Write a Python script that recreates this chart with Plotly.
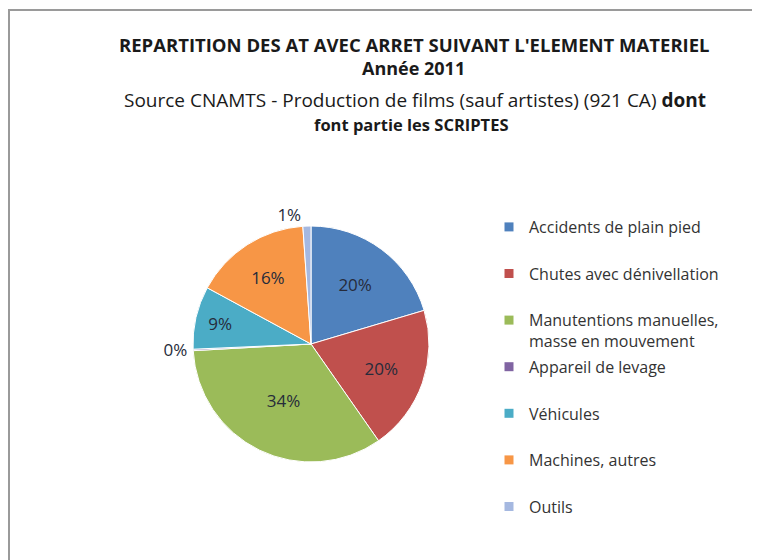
import plotly.graph_objects as go

labels = ["Accidents de plain pied", "Chutes avec dénivellation",
          "Manutentions manuelles,<br>masse en mouvement", "Appareil de levage",
          "Véhicules", "Machines, autres", "Outils"]
values = [20.4, 19.9, 33.8, 0.2, 8.6, 16.0, 1.1]
colors = ["#4F81BD", "#C0504D", "#9BBB59", "#8064A2", "#4BACC6", "#F79646", "#A5B8E0"]
text_positions = ["inside", "inside", "inside", "outside", "inside", "inside", "outside"]

# page body has an 8px margin: figure occupies screen from (8, 8)
OFF = 8
W, H = 752, 552
FONT = "Open Sans, sans-serif"


def px(X):
    return (X - OFF) / W


def py(Y):
    return 1 - (Y - OFF) / H


fig = go.Figure()
fig.add_trace(go.Pie(
    labels=labels, values=values, sort=False, direction="clockwise", rotation=0,
    marker=dict(colors=colors, line=dict(color="white", width=1)),
    texttemplate="%{percent:.0%}", textposition=text_positions,
    insidetextorientation="horizontal",
    textfont=dict(family=FONT, size=17, color="#262b3a"),
    domain=dict(x=[px(193), px(429)], y=[py(462), py(226)]),
    showlegend=False, hoverinfo="label+percent",
))

# legend entries (one per slice)
for lab, col in zip(labels, colors):
    name = lab if "<br>" in lab else lab + "<br> "
    fig.add_trace(go.Scatter(
        x=[None], y=[None], mode="markers", name=name, legendgroup=lab,
        marker=dict(symbol="square", size=9, color=col),
    ))

title_font = dict(family=FONT, color="#1a1a1a")
fig.update_layout(
    width=W, height=H, margin=dict(l=0, r=0, t=0, b=0),
    paper_bgcolor="white", plot_bgcolor="white",
    xaxis=dict(visible=False), yaxis=dict(visible=False),
    legend=dict(x=px(489), y=py(210), xanchor="left", yanchor="top",
                valign="top", tracegroupgap=2, bgcolor="rgba(0,0,0,0)",
                font=dict(family=FONT, size=16, color="#333333")),
    shapes=[dict(type="rect", xref="paper", yref="paper",
                 x0=px(9), x1=1.05, y0=-0.05, y1=py(10),
                 line=dict(color="#9a9a9a", width=2))],
    annotations=[
        dict(text="<b>REPARTITION DES AT AVEC ARRET SUIVANT L'ELEMENT MATERIEL</b>",
             x=px(414), y=py(45), xref="paper", yref="paper", showarrow=False,
             xanchor="center", yanchor="middle", font=dict(size=18.5, **title_font)),
        dict(text="<b>Année 2011</b>",
             x=px(413), y=py(68), xref="paper", yref="paper", showarrow=False,
             xanchor="center", yanchor="middle", font=dict(size=18, **title_font)),
        dict(text="Source CNAMTS - Production de films (sauf artistes) (921 CA) <b>dont</b>",
             x=px(415), y=py(100), xref="paper", yref="paper", showarrow=False,
             xanchor="center", yanchor="middle", font=dict(size=19, **title_font)),
        dict(text="<b>font partie les SCRIPTES</b>",
             x=px(411), y=py(124), xref="paper", yref="paper", showarrow=False,
             xanchor="center", yanchor="middle", font=dict(size=16.5, **title_font)),
    ],
)

fig.write_html("out.html")
